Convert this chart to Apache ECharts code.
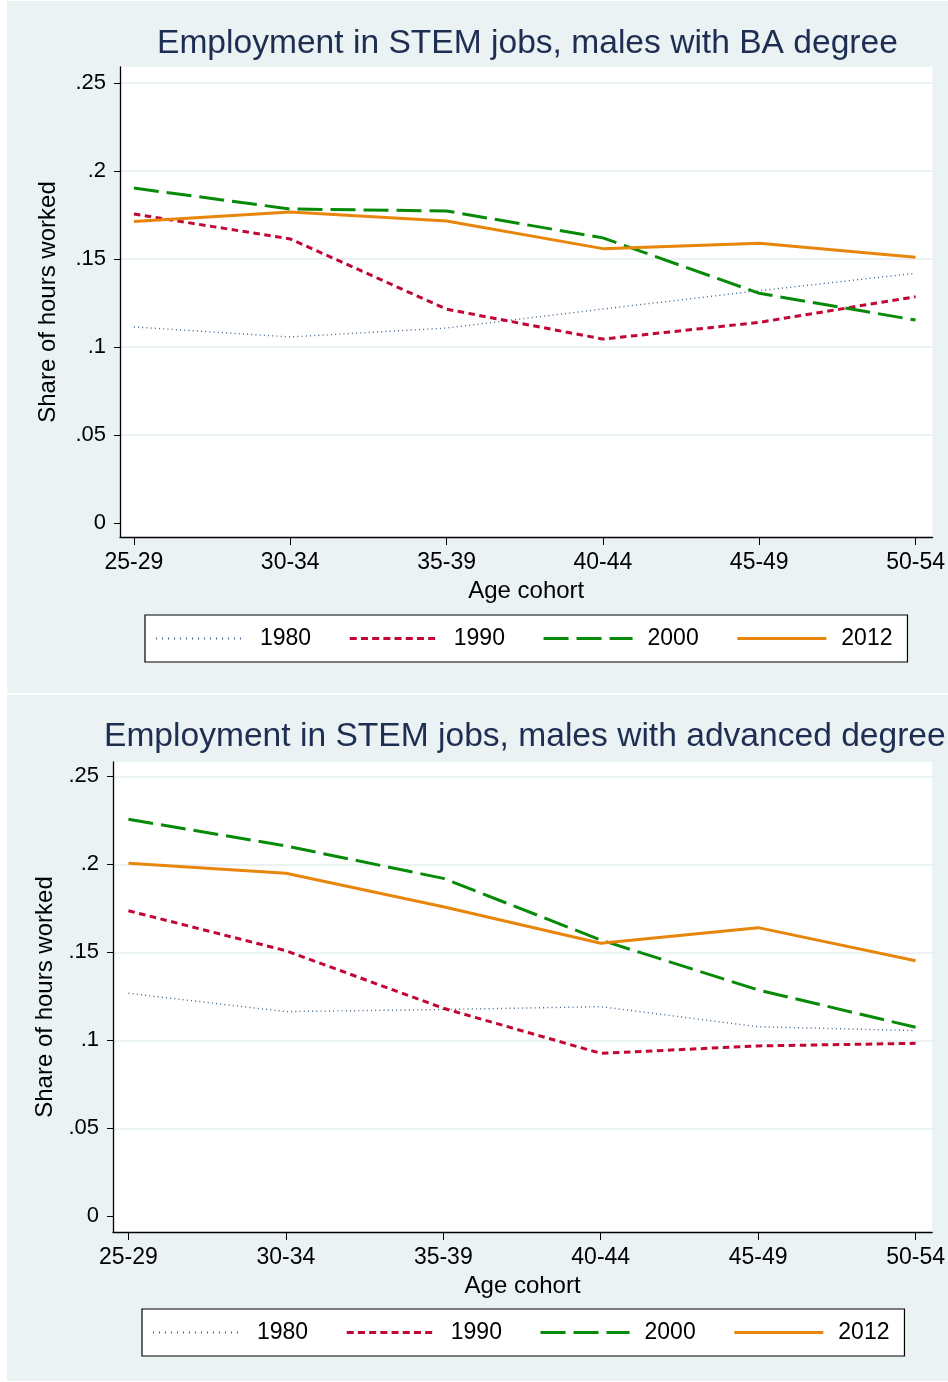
<!DOCTYPE html>
<html>
<head>
<meta charset="utf-8">
<script src="https://cdn.jsdelivr.net/npm/echarts@6/dist/echarts.min.js"></script>
<style>
  html, body { margin: 0; padding: 0; background: #ffffff; }
  #c1 { position: absolute; left: 7px; top: 1px; width: 941px; height: 692px; }
  #c2 { position: absolute; left: 7px; top: 695px; width: 941px; height: 686px; }
</style>
</head>
<body>
<div id="c1"></div>
<div id="c2"></div>
<script>
// ---- data ----
const categories = ['25-29', '30-34', '35-39', '40-44', '45-49', '50-54'];
const yTicks = [0, 0.05, 0.1, 0.15, 0.2, 0.25];
const seriesNames = ['1980', '1990', '2000', '2012'];

// Panel 1: males with BA degree
const ba1980 = [0.1114, 0.1057, 0.1108, 0.1216, 0.1320, 0.1419];
const ba1990 = [0.1756, 0.1614, 0.1215, 0.1045, 0.1140, 0.1286];
const ba2000 = [0.1903, 0.1784, 0.1773, 0.1620, 0.1305, 0.1153];
const ba2012 = [0.1713, 0.1767, 0.1716, 0.1559, 0.1589, 0.1510];

// Panel 2: males with advanced degree
const adv1980 = [0.1267, 0.1163, 0.1175, 0.1191, 0.1077, 0.1055];
const adv1990 = [0.1736, 0.1509, 0.1182, 0.0926, 0.0968, 0.0983];
const adv2000 = [0.2256, 0.2104, 0.1920, 0.1570, 0.1286, 0.1074];
const adv2012 = [0.2006, 0.1949, 0.1759, 0.1551, 0.1640, 0.1452];

const title1 = 'Employment in STEM jobs, males with BA degree';
const title2 = 'Employment in STEM jobs, males with advanced degree';
const xTitle = 'Age cohort';
const yTitle = 'Share of hours worked';

// ---- styles ----
const FONT = 'Liberation Sans, Arial, Helvetica, sans-serif';
const BG = '#eaf2f3';
const styles = [
  { color: '#3f6288', width: 1.4, type: [1, 3.2], legendWidth: 2, legendType: [1, 5] },
  { color: '#c10534', width: 3, type: [6.5, 4.5], legendWidth: 3.2, legendType: [7, 4.2] },
  { color: '#078a07', width: 3, type: [25, 8], legendWidth: 3.2, legendType: [25, 8] },
  { color: '#e8860c', width: 3, type: 'solid', legendWidth: 3.2, legendType: 'solid' }
];

function pairs(arr) { return arr.map((v, i) => [i, v]); }

function makeOption(cfg) {
  return {
    backgroundColor: BG,
    animation: false,
    textStyle: { fontFamily: FONT },
    title: {
      text: cfg.title,
      left: cfg.titleLeft,
      top: cfg.titleTop,
      padding: 0,
      textStyle: { fontFamily: FONT, fontSize: 33.6, fontWeight: 'normal', color: '#1e2d52' }
    },
    grid: {
      left: cfg.gridLeft, top: cfg.gridTop, right: 13, height: 470,
      show: true, backgroundColor: '#ffffff', borderWidth: 0
    },
    legend: {
      data: seriesNames.map((n, i) => ({
        name: n,
        lineStyle: { color: styles[i].color, width: styles[i].legendWidth, type: styles[i].legendType }
      })),
      left: cfg.legendLeft,
      top: cfg.legendTop,
      orient: 'horizontal',
      backgroundColor: '#ffffff',
      borderColor: '#000000',
      borderWidth: 1.2,
      borderRadius: 0,
      padding: [12, 15, 12, 10],
      itemWidth: 89,
      itemHeight: 20,
      itemGap: 37,
      itemStyle: { opacity: 0 },
      textStyle: { fontFamily: FONT, fontSize: 23, color: '#000', padding: [0, 0, 0, 10] }
    },
    xAxis: {
      type: 'value',
      min: cfg.xMin, max: cfg.xMax,
      name: xTitle,
      nameLocation: 'middle',
      nameGap: 39,
      nameTextStyle: { fontFamily: FONT, fontSize: 24, color: '#000' },
      axisLine: { show: true, onZero: false, lineStyle: { color: '#000', width: 1.3 } },
      axisTick: { show: true, length: 8, customValues: [0, 1, 2, 3, 4, 5], lineStyle: { color: '#000', width: 1 } },
      axisLabel: {
        customValues: [0, 1, 2, 3, 4, 5],
        margin: 14,
        fontFamily: FONT, fontSize: 23, color: '#000',
        formatter: v => categories[Math.round(v)] || ''
      },
      splitLine: { show: false }
    },
    yAxis: {
      type: 'value',
      min: cfg.yMin, max: cfg.yMax,
      name: yTitle,
      nameLocation: 'middle',
      nameGap: cfg.yNameGap,
      nameTextStyle: { fontFamily: FONT, fontSize: 24, color: '#000' },
      axisLine: { show: true, onZero: false, lineStyle: { color: '#000', width: 1.3 } },
      axisTick: { show: true, length: 6, customValues: yTicks, lineStyle: { color: '#000', width: 1 } },
      axisLabel: {
        customValues: yTicks,
        margin: 14,
        fontFamily: FONT, fontSize: 22, color: '#000',
        formatter: v => (v === 0 ? '0' : String(+v.toFixed(2)).replace(/^0\./, '.'))
      },
      splitLine: { show: true, lineStyle: { color: ['rgba(0,0,0,0)', BG, BG, BG, BG, BG], width: 2 } }
    },
    series: cfg.data.map((d, i) => ({
      name: seriesNames[i],
      type: 'line',
      data: pairs(d),
      symbol: 'none',
      showSymbol: false,
      lineStyle: { color: styles[i].color, width: styles[i].width, type: styles[i].type },
      itemStyle: { color: styles[i].color },
      z: 2 + i
    }))
  };
}

const chart1 = echarts.init(document.getElementById('c1'), null, { renderer: 'canvas' });
chart1.setOption(makeOption({
  title: title1, titleLeft: 150, titleTop: 26,
  gridLeft: 113, gridTop: 66,
  xMin: -0.089, xMax: 5.108,
  yMin: -0.00795, yMax: 0.2591,
  yNameGap: 60,
  legendLeft: 138, legendTop: 614,
  data: [ba1980, ba1990, ba2000, ba2012]
}));

const chart2 = echarts.init(document.getElementById('c2'), null, { renderer: 'canvas' });
chart2.setOption(makeOption({
  title: title2, titleLeft: 97, titleTop: 25,
  gridLeft: 106, gridTop: 67,
  xMin: -0.098, xMax: 5.105,
  yMin: -0.0089, yMax: 0.2581,
  yNameGap: 54,
  legendLeft: 135, legendTop: 614,
  data: [adv1980, adv1990, adv2000, adv2012]
}));
</script>
</body>
</html>
